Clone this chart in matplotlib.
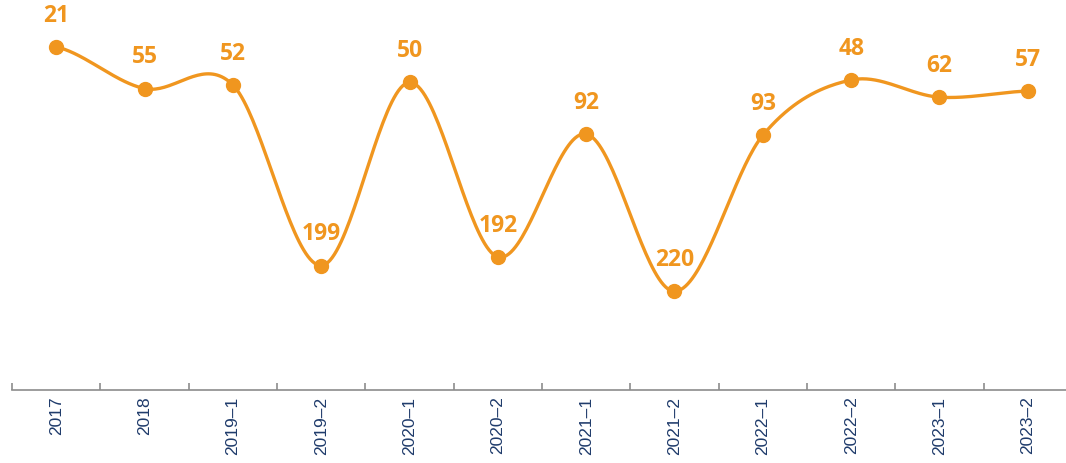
import numpy as np
import matplotlib
matplotlib.use("Agg")
import matplotlib.pyplot as plt

# ranking per period (lower is better, so the axis is inverted)
periods = ["2017", "2018", "2019–1", "2019–2", "2020–1", "2020–2",
           "2021–1", "2021–2", "2022–1", "2022–2", "2023–1", "2023–2"]
ranks = [21, 55, 52, 199, 50, 192, 92, 220, 93, 48, 62, 57]

ORANGE = "#F0961F"
NAVY = "#1F3B6B"
GREY = "#8C8C8C"


def catmull_rom(x, y, steps=40):
    """Smooth curve through the points (cardinal spline, tension 0)."""
    x = np.asarray(x, float)
    y = np.asarray(y, float)
    n = len(y)
    m = np.empty(n)
    m[1:-1] = (y[2:] - y[:-2]) / 2
    m[0] = (y[1] - y[0]) / 2
    m[-1] = (y[-1] - y[-2]) / 2
    xs, ys = [], []
    for i in range(n - 1):
        t = np.linspace(0, 1, steps, endpoint=(i == n - 2))
        h00 = 2 * t**3 - 3 * t**2 + 1
        h10 = t**3 - 2 * t**2 + t
        h01 = -2 * t**3 + 3 * t**2
        h11 = t**3 - t**2
        xs.append(x[i] + t * (x[i + 1] - x[i]))
        ys.append(h00 * y[i] + h10 * m[i] + h01 * y[i + 1] + h11 * m[i + 1])
    return np.concatenate(xs), np.concatenate(ys)


x = np.arange(len(periods))

fig = plt.figure(figsize=(10.66, 4.63), dpi=100)
ax = fig.add_axes([12 / 1066, 73.4 / 463, 1060 / 1066, 368.6 / 463])

cx, cy = catmull_rom(x, ranks)
ax.plot(cx, cy, color=ORANGE, lw=2.4, solid_capstyle="round", zorder=2)
ax.plot(x, ranks, "o", color=ORANGE, ms=10, zorder=3)

for xi, r in zip(x, ranks):
    ax.annotate(str(r), (xi, r), xytext=(0, 22.5), textcoords="offset points",
                ha="center", va="center", color=ORANGE, fontsize=16.5,
                fontweight="bold", fontfamily="Open Sans")

ax.set_xlim(-0.5, len(periods) - 0.5)
ax.set_ylim(300, 0)

for side in ("top", "right", "left"):
    ax.spines[side].set_visible(False)
ax.spines["bottom"].set_color(GREY)
ax.spines["bottom"].set_linewidth(1.2)
ax.set_yticks([])

ax.set_xticks(x)
ax.set_xticklabels(periods, rotation=90, color=NAVY, fontsize=12.5,
                   fontfamily="Liberation Sans")
ax.tick_params(axis="x", which="major", length=0, pad=5)
ax.set_xticks(np.arange(-0.5, len(periods), 1), minor=True)
ax.tick_params(axis="x", which="minor", direction="in", length=5,
               width=1.2, color=GREY)

fig.savefig("out.png", dpi=100)
